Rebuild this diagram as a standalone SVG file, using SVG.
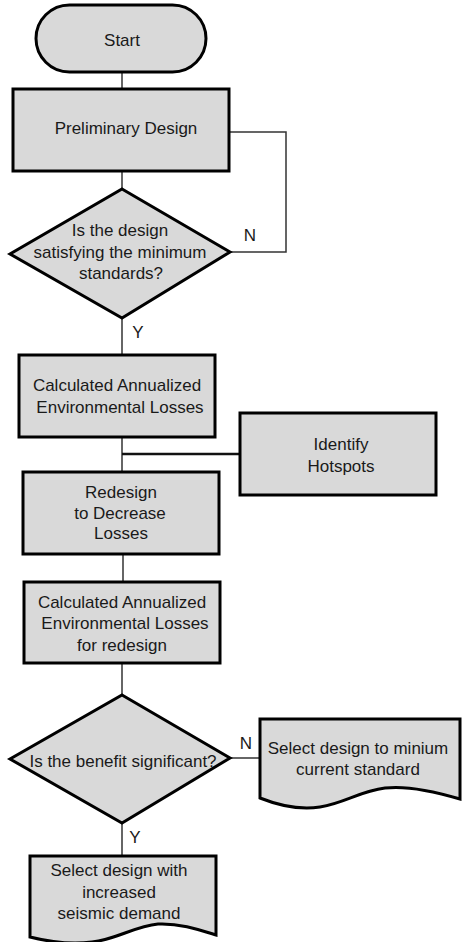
<svg xmlns="http://www.w3.org/2000/svg" width="463" height="942" viewBox="0 0 463 942">
<style>
.shape{fill:#d9d9d9;stroke:#000;stroke-width:3;stroke-linejoin:miter}
.conn{fill:none;stroke:#333;stroke-width:1.5}
.thick{fill:none;stroke:#111;stroke-width:2.5}
text{font-family:"Liberation Sans",Arial,sans-serif;font-size:17px;fill:#1a1a1a;text-anchor:middle}
</style>
<rect width="463" height="942" fill="#fff"/>
<g id="connectors">
<line class="conn" x1="122" y1="72" x2="122" y2="89"/>
<line class="conn" x1="122" y1="171" x2="122" y2="189"/>
<polyline class="conn" points="229,132 286,132 286,252 230,252"/>
<line class="conn" x1="122" y1="318" x2="122" y2="355"/>
<line class="conn" x1="122" y1="437" x2="122" y2="472"/>
<line class="thick" x1="122" y1="454" x2="240" y2="454"/>
<line class="conn" x1="123" y1="554" x2="123" y2="582"/>
<line class="conn" x1="122" y1="663" x2="122" y2="695"/>
<line class="conn" x1="230" y1="758" x2="260" y2="758"/>
<line class="conn" x1="122" y1="823" x2="122" y2="856"/>
</g>
<g id="labels">
<text x="250" y="241">N</text>
<text x="138" y="338">Y</text>
<text x="246" y="749">N</text>
<text x="135" y="843">Y</text>
</g>
<g id="start">
<rect class="shape" x="36" y="5" width="170" height="67" rx="33.5" ry="33.5"/>
<text x="122" y="46">Start</text>
</g>
<g id="preliminary">
<rect class="shape" x="13" y="89" width="216" height="82"/>
<text x="126" y="134">Preliminary Design</text>
</g>
<g id="decision1">
<polygon class="shape" points="122,189 230,252 122,318 10,254"/>
<text x="120" y="236">Is the design</text>
<text x="120" y="258">satisfying the minimum</text>
<text x="121" y="279">standards?</text>
</g>
<g id="calc1">
<rect class="shape" x="19" y="355" width="196" height="82"/>
<text x="117" y="391">Calculated Annualized</text>
<text x="120" y="413">Environmental Losses</text>
</g>
<g id="hotspots">
<rect class="shape" x="240" y="413" width="196" height="82"/>
<text x="341" y="450">Identify</text>
<text x="341" y="472">Hotspots</text>
</g>
<g id="redesign">
<rect class="shape" x="23" y="472" width="196" height="82"/>
<text x="121" y="498">Redesign</text>
<text x="120" y="519">to Decrease</text>
<text x="121" y="539">Losses</text>
</g>
<g id="calc2">
<rect class="shape" x="24" y="582" width="196" height="81"/>
<text x="122" y="608">Calculated Annualized</text>
<text x="125" y="629">Environmental Losses</text>
<text x="122" y="651">for redesign</text>
</g>
<g id="decision2">
<polygon class="shape" points="122,695 230,758 122,823 10,759"/>
<text x="123" y="767">Is the benefit significant?</text>
</g>
<g id="doc-min">
<path class="shape" d="M260,719 H460 V799 C440,793 410,785 385,788 C360,791 345,803 320,807 C300,810 280,806 260,798 Z"/>
<text x="358" y="754">Select design to minium</text>
<text x="358" y="775">current standard</text>
</g>
<g id="doc-increased">
<path class="shape" d="M30,856 H216 V935 C200,930 180,923 158,924 C135,926 115,940 92,942 C70,945 50,942 30,937 Z"/>
<text x="119" y="876">Select design with</text>
<text x="119" y="898">increased</text>
<text x="119" y="919">seismic demand</text>
</g>
</svg>
